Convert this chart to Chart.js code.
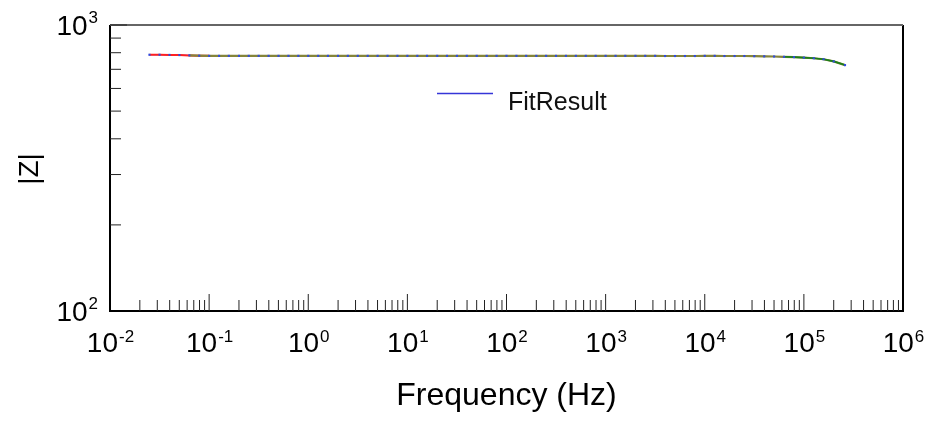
<!DOCTYPE html>
<html>
<head>
<meta charset="utf-8">
<script src="https://cdn.jsdelivr.net/npm/chart.js@4.4.1/dist/chart.umd.min.js"></script>
<style>
  html, body { margin: 0; padding: 0; background: #fff; }
  #wrap { width: 929px; height: 422px; position: relative; }
</style>
</head>
<body>
<div id="wrap"><canvas id="bodeChart"></canvas></div>
<script>
// measured frequencies (Hz) and impedance magnitude
const freqHz = [
  0.025, 0.0316, 0.0398, 0.0501, 0.0631, 0.0794,
  0.1, 0.126, 0.158, 0.2, 0.251, 0.316, 0.398, 0.501, 0.631, 0.794,
  1, 1.26, 1.58, 2, 2.51, 3.16, 3.98, 5.01, 6.31, 7.94,
  10, 12.6, 15.8, 20, 25.1, 31.6, 39.8, 50.1, 63.1, 79.4,
  100, 126, 158, 200, 251, 316, 398, 501, 631, 794,
  1000, 1260, 1580, 2000, 2510, 3160, 3980, 5010, 6310, 7940,
  10000, 12600, 15800, 20000, 25100, 31600, 39800, 50100, 63100, 79400,
  100000, 126000, 158000, 200000, 260000
];
const zMag = [
  787, 787, 786, 785, 783, 781,
  780, 780, 780, 780, 780, 780, 780, 780, 780, 780,
  780, 780, 780, 780, 780, 780, 780, 780, 780, 780,
  780, 780, 780, 780, 780, 780, 780, 780, 780, 780,
  780, 780, 780, 780, 780, 780, 780, 780, 780, 780,
  780, 780, 780, 780, 780, 780, 779, 779, 779, 779,
  780, 780, 779, 779, 779, 778, 777, 776, 774, 772,
  769, 765, 759, 746, 724
];
// index ranges of the coloured segments
const lowBandEnd = 7;     // red part
const mainBandStart = 4;  // olive part
const highBandStart = 64; // green tail

const xTickExps = [-2, -1, 0, 1, 2, 3, 4, 5, 6];
const yTickExps = [2, 3];
const xTitle = 'Frequency (Hz)';
const yTitle = '|Z|';
const fitLabel = 'FitResult';

const pts = (from, to) => freqHz.slice(from, to).map((f, i) => ({ x: f, y: zMag[from + i] }));

const FONT = "'Liberation Sans', Arial, sans-serif";

const axesPlugin = {
  id: 'axesPlugin',
  afterDraw(chart) {
    const ctx = chart.ctx;
    const xs = chart.scales.x, ys = chart.scales.y;
    const a = chart.chartArea;
    const lastX = xTickExps[xTickExps.length - 1], lastY = yTickExps[yTickExps.length - 1];
    ctx.save();

    // frame
    ctx.strokeStyle = '#000';
    ctx.lineWidth = 2;
    ctx.beginPath();
    ctx.moveTo(a.left, a.top);
    ctx.lineTo(a.left, a.bottom);
    ctx.lineTo(a.right, a.bottom);
    ctx.lineTo(a.right, a.top);
    ctx.stroke();
    ctx.strokeStyle = '#666';
    ctx.beginPath();
    ctx.moveTo(a.left, a.top);
    ctx.lineTo(a.right, a.top);
    ctx.stroke();

    // ticks (inward)
    ctx.strokeStyle = '#222';
    ctx.lineWidth = 1;
    ctx.beginPath();
    for (let e = xTickExps[0]; e <= lastX; e++) {
      for (let m = 1; m <= 9; m++) {
        if (e === lastX && m > 1) break;
        if (m === 1 && (e === xTickExps[0] || e === lastX)) continue;
        const px = xs.getPixelForValue(m * Math.pow(10, e));
        const len = m === 1 ? 17 : 11;
        ctx.moveTo(px, a.bottom);
        ctx.lineTo(px, a.bottom - len);
      }
    }
    for (let e = yTickExps[0]; e <= lastY; e++) {
      for (let m = 1; m <= 9; m++) {
        if (e === lastY && m > 1) break;
        if (m === 1 && e === yTickExps[0]) continue;
        const py = ys.getPixelForValue(m * Math.pow(10, e));
        const len = m === 1 ? 17 : 11;
        ctx.moveTo(a.left, py);
        ctx.lineTo(a.left + len, py);
      }
    }
    ctx.stroke();

    // tick labels with superscripts
    ctx.fillStyle = '#000';
    ctx.textBaseline = 'alphabetic';
    ctx.textAlign = 'left';
    const big = '28px ' + FONT, small = '17px ' + FONT;
    xTickExps.forEach(e => {
      const px = xs.getPixelForValue(Math.pow(10, e));
      ctx.font = big; const w1 = ctx.measureText('10').width;
      ctx.font = small; const w2 = ctx.measureText(String(e)).width;
      const x0 = px - (w1 + w2) / 2;
      ctx.font = big; ctx.fillText('10', x0, a.bottom + 41);
      ctx.font = small; ctx.fillText(String(e), x0 + w1 + 1, a.bottom + 31);
    });
    yTickExps.forEach(e => {
      const py = ys.getPixelForValue(Math.pow(10, e));
      ctx.font = big; const w1 = ctx.measureText('10').width;
      ctx.font = small; const w2 = ctx.measureText(String(e)).width;
      const x0 = a.left - 12 - w2 - w1 - 1;
      ctx.font = big; ctx.fillText('10', x0, py + 10);
      ctx.font = small; ctx.fillText(String(e), x0 + w1 + 1, py - 2);
    });

    // axis titles
    ctx.font = '32px ' + FONT;
    ctx.textAlign = 'center';
    ctx.fillText(xTitle, (a.left + a.right) / 2, a.bottom + 94);
    ctx.save();
    ctx.translate(30, (a.top + a.bottom) / 2 + 1);
    ctx.rotate(-Math.PI / 2);
    ctx.font = '28px ' + FONT;
    ctx.textBaseline = 'middle';
    ctx.fillText(yTitle, 0, 0);
    ctx.restore();

    // legend
    const fit = chart.data.datasets.find(d => d.label === fitLabel);
    ctx.strokeStyle = fit.borderColor;
    ctx.lineWidth = 1.5;
    ctx.beginPath();
    ctx.moveTo(437, 93.5);
    ctx.lineTo(493, 93.5);
    ctx.stroke();
    ctx.font = '25px ' + FONT;
    ctx.textAlign = 'left';
    ctx.textBaseline = 'alphabetic';
    ctx.fillStyle = '#111';
    ctx.fillText(fitLabel, 508, 110);
    ctx.restore();
  }
};

new Chart(document.getElementById('bodeChart'), {
  type: 'scatter',
  data: {
    datasets: [
      {
        label: 'Measured',
        data: pts(0, freqHz.length),
        showLine: false,
        pointStyle: 'rect',
        pointRadius: 1.5,
        pointBorderWidth: 0,
        backgroundColor: '#2f4be0',
        borderColor: '#2f4be0',
        order: 0
      },
      {
        label: 'HighBand',
        data: pts(highBandStart, freqHz.length),
        showLine: true,
        pointRadius: 0,
        borderColor: '#1a7f1a',
        borderWidth: 1.6,
        order: 1
      },
      {
        label: 'MainBand',
        data: pts(mainBandStart, freqHz.length),
        showLine: true,
        pointRadius: 0,
        borderColor: '#85853a',
        borderWidth: 2.2,
        order: 2
      },
      {
        label: 'LowBand',
        data: pts(0, lowBandEnd),
        showLine: true,
        pointRadius: 0,
        borderColor: '#ff2020',
        borderWidth: 2,
        order: 3
      },
      {
        label: fitLabel,
        data: pts(0, freqHz.length),
        showLine: true,
        pointRadius: 0,
        borderColor: '#3535d8',
        borderWidth: 1,
        order: 4
      }
    ]
  },
  options: {
    responsive: true,
    maintainAspectRatio: false,
    animation: false,
    layout: { padding: { left: 110, right: 26, top: 25, bottom: 111 } },
    scales: {
      x: { type: 'logarithmic', min: 0.01, max: 1000000, display: false },
      y: { type: 'logarithmic', min: 100, max: 1000, display: false }
    },
    plugins: {
      legend: { display: false },
      tooltip: { enabled: false }
    }
  },
  plugins: [axesPlugin]
});
</script>
</body>
</html>
